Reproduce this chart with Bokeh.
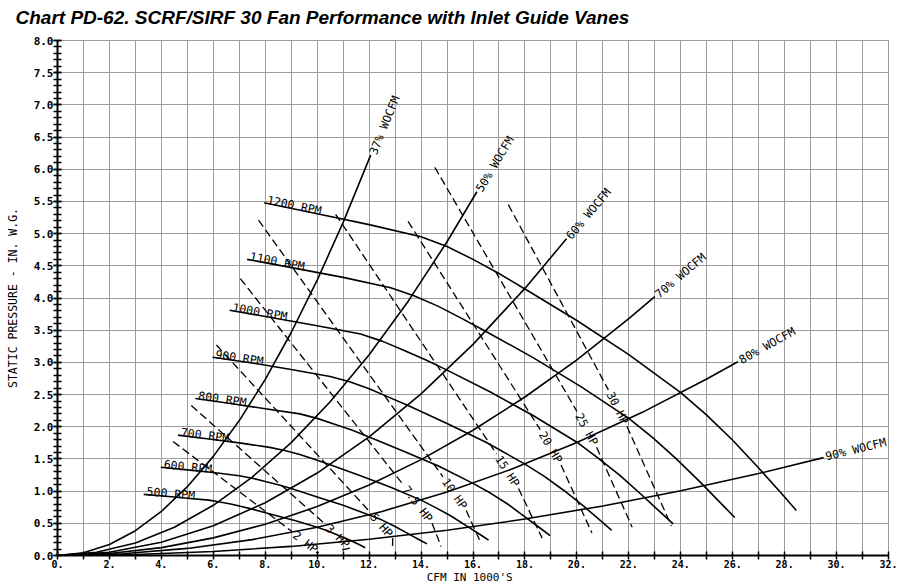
import math
from bokeh.plotting import figure
from bokeh.models import Range1d, FixedTicker, Title
from bokeh.core.properties import value
from bokeh.embed import file_html
from bokeh.resources import INLINE

# ---------------- texts ----------------
title_text = "Chart PD-62. SCRF/SIRF 30  Fan Performance with Inlet Guide Vanes"
x_axis_text = "CFM IN  1000'S"
y_axis_text = "STATIC PRESSURE - IN. W.G."

x_tick_values = [0, 2, 4, 6, 8, 10, 12, 14, 16, 18, 20, 22, 24, 26, 28, 30, 32]
x_tick_labels = ["0.", "2.", "4.", "6.", "8.", "10.", "12.", "14.", "16.", "18.",
                 "20.", "22.", "24.", "26.", "28.", "30.", "32."]
y_tick_values = [0.0, 0.5, 1.0, 1.5, 2.0, 2.5, 3.0, 3.5, 4.0, 4.5, 5.0, 5.5, 6.0, 6.5, 7.0, 7.5, 8.0]
y_tick_labels = ["0.0", "0.5", "1.0", "1.5", "2.0", "2.5", "3.0", "3.5", "4.0",
                 "4.5", "5.0", "5.5", "6.0", "6.5", "7.0", "7.5", "8.0"]

# ---------------- fan speed curves (RPM) ----------------
rpm_labels = ["500 RPM", "600 RPM", "700 RPM", "800 RPM", "900 RPM", "1000 RPM", "1100 RPM", "1200 RPM"]
rpm_500_x = [3.32, 4.17, 5.00, 5.83, 6.25, 6.67, 7.08, 7.50, 8.33, 9.17, 10.00, 10.42, 10.83, 11.25, 11.67, 11.85]
rpm_500_y = [0.95, 0.92, 0.89, 0.86, 0.83, 0.80, 0.76, 0.72, 0.63, 0.54, 0.44, 0.38, 0.31, 0.24, 0.16, 0.12]
rpm_600_x = [3.98, 5.00, 6.00, 7.00, 7.50, 8.00, 8.50, 9.00, 10.00, 11.00, 12.00, 12.50, 13.00, 13.50, 14.00, 14.23]
rpm_600_y = [1.37, 1.33, 1.29, 1.24, 1.20, 1.15, 1.10, 1.04, 0.91, 0.78, 0.63, 0.55, 0.45, 0.34, 0.23, 0.18]
rpm_700_x = [4.64, 5.83, 7.00, 8.17, 8.75, 9.33, 9.92, 10.50, 11.67, 12.83, 14.00, 14.58, 15.17, 15.75, 16.33, 16.60]
rpm_700_y = [1.87, 1.81, 1.75, 1.68, 1.63, 1.57, 1.49, 1.41, 1.24, 1.06, 0.86, 0.74, 0.61, 0.46, 0.31, 0.24]
rpm_800_x = [5.31, 6.67, 8.00, 9.33, 10.00, 10.67, 11.33, 12.00, 13.33, 14.67, 16.00, 16.67, 17.33, 18.00, 18.67, 18.97]
rpm_800_y = [2.44, 2.36, 2.28, 2.20, 2.13, 2.04, 1.95, 1.84, 1.62, 1.39, 1.12, 0.97, 0.80, 0.60, 0.40, 0.31]
rpm_900_x = [5.97, 7.50, 9.00, 10.50, 11.25, 12.00, 12.75, 13.50, 15.00, 16.50, 18.00, 18.75, 19.50, 20.25, 21.00, 21.34]
rpm_900_y = [3.08, 2.99, 2.89, 2.78, 2.70, 2.59, 2.46, 2.33, 2.05, 1.76, 1.42, 1.23, 1.01, 0.77, 0.51, 0.39]
rpm_1000_x = [6.63, 8.33, 10.00, 11.67, 12.50, 13.33, 14.17, 15.00, 16.67, 18.33, 20.00, 20.83, 21.67, 22.50, 23.33, 23.71]
rpm_1000_y = [3.81, 3.69, 3.57, 3.44, 3.33, 3.19, 3.04, 2.88, 2.54, 2.17, 1.76, 1.51, 1.24, 0.94, 0.63, 0.49]
rpm_1100_x = [7.30, 9.17, 11.00, 12.83, 13.75, 14.67, 15.58, 16.50, 18.33, 20.17, 22.00, 22.92, 23.83, 24.75, 25.67, 26.08]
rpm_1100_y = [4.60, 4.46, 4.32, 4.16, 4.03, 3.87, 3.68, 3.48, 3.07, 2.62, 2.13, 1.83, 1.50, 1.14, 0.76, 0.59]
rpm_1200_x = [7.96, 10.00, 12.00, 14.00, 15.00, 16.00, 17.00, 18.00, 20.00, 22.00, 24.00, 25.00, 26.00, 27.00, 28.00, 28.45]
rpm_1200_y = [5.48, 5.31, 5.14, 4.95, 4.80, 4.60, 4.38, 4.14, 3.65, 3.12, 2.53, 2.18, 1.79, 1.36, 0.91, 0.70]

# ---------------- system curves (% WOCFM) ----------------
wocfm_labels = ["37% WOCFM", "50% WOCFM", "60% WOCFM", "70% WOCFM", "80% WOCFM", "90% WOCFM"]
wocfm_37_x = [0, 1, 2, 3, 4, 5, 6, 7, 8, 9, 10, 11, 12.06]
wocfm_37_y = [0, 0.043, 0.171, 0.385, 0.684, 1.069, 1.540, 2.096, 2.737, 3.464, 4.277, 5.175, 6.22]
wocfm_50_x = [0, 1.5, 3, 4.5, 6, 7.5, 9, 10.5, 12, 13.5, 15, 16.15]
wocfm_50_y = [0, 0.049, 0.195, 0.439, 0.780, 1.218, 1.754, 2.388, 3.119, 3.947, 4.874, 5.65]
wocfm_60_x = [0, 2, 4, 6, 8, 10, 12, 14, 16, 18, 19.6]
wocfm_60_y = [0, 0.051, 0.205, 0.461, 0.820, 1.281, 1.844, 2.510, 3.279, 4.149, 4.92]
wocfm_70_x = [0, 2, 4, 6, 8, 10, 12, 14, 16, 18, 20, 22, 23]
wocfm_70_y = [0, 0.030, 0.122, 0.274, 0.486, 0.760, 1.094, 1.489, 1.945, 2.462, 3.040, 3.678, 4.02]
wocfm_80_x = [0, 2.5, 5, 7.5, 10, 12.5, 15, 17.5, 20, 22.5, 25, 26.2]
wocfm_80_y = [0, 0.027, 0.110, 0.247, 0.439, 0.685, 0.987, 1.343, 1.754, 2.220, 2.741, 3.01]
wocfm_90_x = [0, 3, 6, 9, 12, 15, 18, 21, 24, 27, 29.5]
wocfm_90_y = [0, 0.016, 0.063, 0.141, 0.252, 0.393, 0.566, 0.770, 1.006, 1.273, 1.52]

# ---------------- brake horsepower lines (dashed) ----------------
hp_labels = ["2 HP", "3 HP", "5 HP", "7.5 HP", "10 HP", "15 HP", "20 HP", "25 HP", "30 HP"]
hp_start_x = [4.45, 5.15, 6.12, 7.04, 7.74, 10.71, 13.50, 14.53, 17.36]
hp_start_y = [1.77, 2.33, 3.27, 4.30, 5.21, 5.30, 5.19, 6.03, 5.45]
hp_label_x = [9.55, 10.79, 12.48, 13.87, 15.29, 17.33, 18.99, 20.38, 21.57]
hp_label_y = [0.21, 0.30, 0.47, 0.80, 0.96, 1.31, 1.68, 1.96, 2.29]
hp_end_x = [9.95, 10.90, 12.90, 14.77, 16.30, 18.66, 20.58, 22.13, 23.64]
hp_end_y = [0.05, 0.08, 0.13, 0.14, 0.20, 0.27, 0.35, 0.44, 0.46]

# ---------------- layout ----------------
W, H = 919, 586
BL, BR, BT, BB = 57, 31, 40, 30
XMIN, XMAX, YMIN, YMAX = 0, 32, 0, 8
PXX = (W - BL - BR) / (XMAX - XMIN)
PXY = (H - BT - BB) / (YMAX - YMIN)

MONO = "DejaVu Sans Mono"
GRID = "#9c9c9c"
LBL = "11.5px"

p = figure(width=W, height=H, title=None,
           x_range=Range1d(XMIN, XMAX), y_range=Range1d(YMIN, YMAX),
           output_backend="svg", toolbar_location=None,
           min_border_left=BL, min_border_right=BR, min_border_top=BT, min_border_bottom=BB,
           background_fill_color="white", border_fill_color="white",
           outline_line_color=GRID, outline_line_width=1)

# title: a thin spacer next to the frame, then the real title above it
p.add_layout(Title(text=" ", text_font_size="1px", standoff=10), "above")
p.add_layout(Title(text=title_text, text_font="Liberation Sans",
                   text_font_style="bold italic", text_font_size="19px",
                   text_color="black", align="left", offset=-42, standoff=0), "above")

# axes
p.xaxis.ticker = FixedTicker(ticks=x_tick_values, minor_ticks=list(range(1, 32, 2)))
p.xaxis.major_label_overrides = {v: t for v, t in zip(x_tick_values, x_tick_labels)}
p.yaxis.ticker = FixedTicker(ticks=y_tick_values, minor_ticks=[i / 10 for i in range(81)])
p.yaxis.major_label_overrides = {v: t for v, t in zip(y_tick_values, y_tick_labels)}

for ax in (p.xaxis[0], p.yaxis[0]):
    ax.axis_line_color = "black"
    ax.axis_line_width = 2
    ax.major_tick_in = 4
    ax.major_tick_out = 4
    ax.minor_tick_in = 4
    ax.minor_tick_out = 4
    ax.major_tick_line_color = "black"
    ax.minor_tick_line_color = "black"
    ax.major_tick_line_width = 1.5
    ax.minor_tick_line_width = 1.5
    ax.major_label_text_font = MONO
    ax.major_label_text_font_style = "bold"
    ax.major_label_text_color = "black"
    ax.axis_label_text_font = MONO
    ax.axis_label_text_font_style = "normal"
    ax.axis_label_text_color = "black"

p.xaxis.major_label_text_font_size = "10px"
p.xaxis.major_label_standoff = 0
p.xaxis.axis_label = x_axis_text
p.xaxis.axis_label_text_font_size = "11px"
p.xaxis.axis_label_standoff = 0

p.yaxis.major_label_text_font_size = "11px"
p.yaxis.major_label_standoff = 0
p.yaxis.axis_label = y_axis_text
p.yaxis.axis_label_text_font_size = "11.5px"
p.yaxis.axis_label_standoff = 11

# grid
p.xgrid.ticker = FixedTicker(ticks=list(range(XMIN, XMAX + 1)))
p.ygrid.ticker = FixedTicker(ticks=y_tick_values)
for g in (p.xgrid[0], p.ygrid[0]):
    g.grid_line_color = GRID
    g.grid_line_width = 1

# ---------------- draw ----------------
def px_angle(dx, dy):
    return math.atan2(dy * PXY, dx * PXX)

rpm_series = [(rpm_500_x, rpm_500_y), (rpm_600_x, rpm_600_y), (rpm_700_x, rpm_700_y),
              (rpm_800_x, rpm_800_y), (rpm_900_x, rpm_900_y), (rpm_1000_x, rpm_1000_y),
              (rpm_1100_x, rpm_1100_y), (rpm_1200_x, rpm_1200_y)]
wocfm_series = [(wocfm_37_x, wocfm_37_y), (wocfm_50_x, wocfm_50_y), (wocfm_60_x, wocfm_60_y),
                (wocfm_70_x, wocfm_70_y), (wocfm_80_x, wocfm_80_y), (wocfm_90_x, wocfm_90_y)]

for xs, ys in rpm_series:
    p.line(xs, ys, line_color="black", line_width=1.6)
for xs, ys in wocfm_series:
    p.line(xs, ys, line_color="black", line_width=1.6)

# dashed HP lines with a gap where the label sits
seg_x, seg_y, lab_ang = [], [], []
for i, name in enumerate(hp_labels):
    dx = hp_end_x[i] - hp_start_x[i]
    dy = hp_end_y[i] - hp_start_y[i]
    dxp, dyp = dx * PXX, dy * PXY
    n = math.hypot(dxp, dyp)
    ux, uy = dxp / n, dyp / n
    half = 3.5 * len(name) + 3
    gx, gy = ux * half / PXX, uy * half / PXY
    lx, ly = hp_label_x[i], hp_label_y[i]
    seg_x += [[hp_start_x[i], lx - gx], [lx + gx, hp_end_x[i]]]
    seg_y += [[hp_start_y[i], ly - gy], [ly + gy, hp_end_y[i]]]
    lab_ang.append(math.atan2(dyp, dxp))
p.multi_line(seg_x, seg_y, line_color="black", line_width=1.3, line_dash="8 4")

p.text(x=hp_label_x, y=hp_label_y, text=hp_labels, angle=lab_ang,
       text_font=value(MONO), text_font_size=value(LBL),
       text_align="center", text_baseline="middle", text_color="black")

# RPM labels at start of each curve
rpm_lx = [s[0][0] for s in rpm_series]
rpm_ly = [s[1][0] for s in rpm_series]
rpm_ang = [px_angle(s[0][1] - s[0][0], s[1][1] - s[1][0]) for s in rpm_series]
p.text(x=rpm_lx, y=rpm_ly, text=rpm_labels, angle=rpm_ang,
       text_font=value(MONO), text_font_size=value(LBL),
       text_align="left", text_baseline="alphabetic", text_color="black",
       x_offset=3, y_offset=-3)

# WOCFM labels beyond end of each curve
w_lx = [s[0][-1] for s in wocfm_series]
w_ly = [s[1][-1] for s in wocfm_series]
w_ang = [px_angle(s[0][-1] - s[0][-2], s[1][-1] - s[1][-2]) for s in wocfm_series]
p.text(x=w_lx, y=w_ly, text=wocfm_labels, angle=w_ang,
       text_font=value(MONO), text_font_size=value(LBL),
       text_align="left", text_baseline="middle", text_color="black",
       x_offset=2, y_offset=-1)

open("out.html", "w").write(file_html(p, INLINE))
